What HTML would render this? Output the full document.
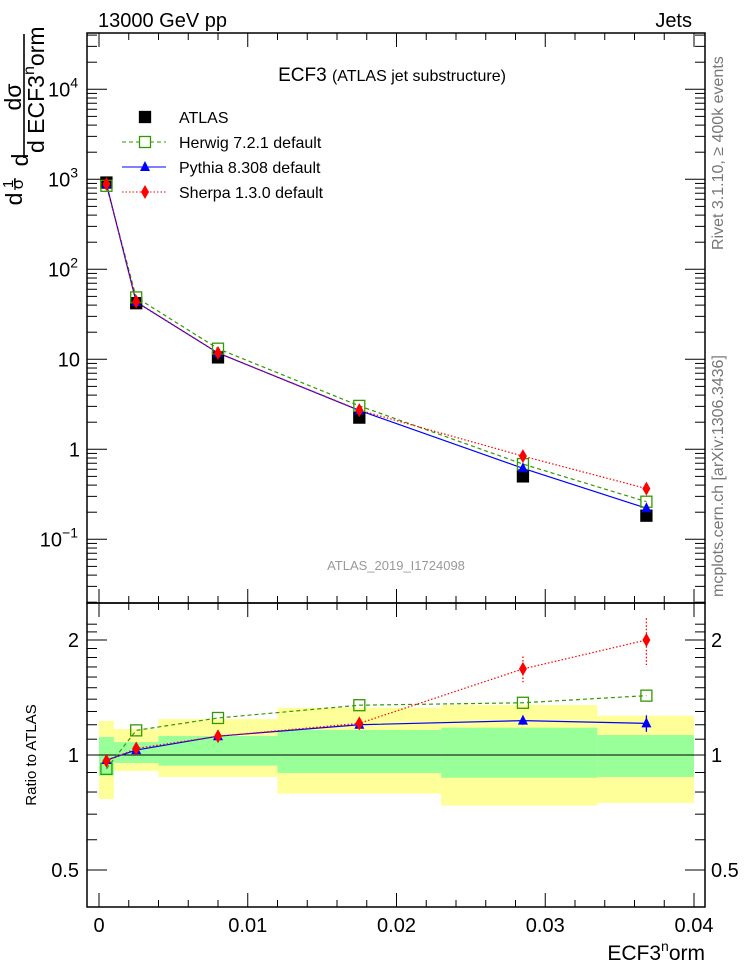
<!DOCTYPE html>
<html><head><meta charset="utf-8"><style>
body{margin:0;background:#fff}
svg{display:block;font-family:"Liberation Sans",sans-serif}
</style></head><body>
<svg id="c" width="746" height="972" viewBox="0 0 746 972">
<text x="98" y="27" font-size="20">13000 GeV pp</text>
<text x="692" y="27" font-size="20" text-anchor="end">Jets</text>
<text x="392" y="81" font-size="19" text-anchor="middle">ECF3 <tspan font-size="16">(ATLAS jet substructure)</tspan></text>
<text x="396" y="570" font-size="13" fill="#999" text-anchor="middle">ATLAS_2019_I1724098</text>
<text transform="translate(723,250) rotate(-90)" font-size="16" fill="#777">Rivet 3.1.10, ≥ 400k events</text>
<text transform="translate(723,597) rotate(-90)" font-size="16" fill="#777">mcplots.cern.ch [arXiv:1306.3436]</text>
<g>
<text transform="translate(21,97) rotate(-90)" text-anchor="middle" font-size="23">dσ</text>
<line x1="24" y1="34" x2="24" y2="158" stroke="#000" stroke-width="1.6"/>
<text transform="translate(44,153) rotate(-90)" font-size="23">d ECF3<tspan font-size="16" dy="-10">n</tspan><tspan dy="10">orm</tspan></text>
<text transform="translate(28,160) rotate(-90)" text-anchor="middle" font-size="23">d</text>
<text transform="translate(13,184) rotate(-90)" text-anchor="middle" font-size="15">1</text>
<line x1="15" y1="178" x2="15" y2="190" stroke="#000" stroke-width="1.3"/>
<text transform="translate(23,184) rotate(-90)" text-anchor="middle" font-size="17">σ</text>
<text transform="translate(22,199) rotate(-90)" text-anchor="middle" font-size="23">d</text>
</g>
<text transform="translate(36,755) rotate(-90)" font-size="15" text-anchor="middle">Ratio to ATLAS</text>
<text x="705" y="960" font-size="21" text-anchor="end">ECF3<tspan font-size="14" dy="-9">n</tspan><tspan dy="9">orm</tspan></text>
<g id="g"></g>
</svg>
<script>
const xVals=[0.0005,0.0025,0.008,0.0175,0.0285,0.0368];
const binEdges=[0,0.001,0.004,0.012,0.023,0.0335,0.04];
const atlas=[920,42,10.5,2.25,0.5,0.183];
const herwigRatio=[0.92,1.16,1.25,1.35,1.37,1.43];
const pythiaRatio=[0.97,1.03,1.12,1.20,1.23,1.21];
const pythiaErr=[0,0,0,0.02,0.03,0.06];
const sherpaRatio=[0.965,1.04,1.12,1.21,1.68,2.0];
const sherpaErr=[0,0,0,0.02,0.13,0.28];
const bandStatHi=[1.115,1.081,1.121,1.163,1.179,1.128];
const bandStatLo=[0.883,0.953,0.938,0.897,0.872,0.876];
const bandTotHi=[1.228,1.17,1.242,1.33,1.352,1.268];
const bandTotLo=[0.767,0.908,0.876,0.792,0.737,0.749];
const xTicks=[0,0.01,0.02,0.03,0.04];
const xTickLabels=["0","0.01","0.02","0.03","0.04"];
const ratioTicks=[0.5,1,2];

const L=87,R=705,T=33,MB=603,RB=907;
const X=v=>99+v*14875;
const Y=v=>449.3-90*Math.log10(v);
const RY=r=>755-115*Math.log2(r);
const NS="http://www.w3.org/2000/svg";
const g=document.getElementById('g');
function el(t,a,p){const e=document.createElementNS(NS,t);for(const k in a)e.setAttribute(k,a[k]);(p||g).appendChild(e);return e;}

for(let i=0;i<6;i++){
 const r=el('rect',{x:X(binEdges[i]),y:RY(bandTotHi[i]),width:X(binEdges[i+1])-X(binEdges[i]),height:RY(bandTotLo[i])-RY(bandTotHi[i]),fill:'#ffff99'});
 
 
}
for(let i=0;i<6;i++){
 const r=el('rect',{x:X(binEdges[i]),y:RY(bandStatHi[i]),width:X(binEdges[i+1])-X(binEdges[i]),height:RY(bandStatLo[i])-RY(bandStatHi[i]),fill:'#99ff99'});
 
 
}
el('line',{x1:L,x2:R,y1:RY(1),y2:RY(1),stroke:'#000','stroke-width':1});

el('rect',{x:L,y:T,width:R-L,height:MB-T,fill:'none',stroke:'#000','stroke-width':1.5});
el('rect',{x:L,y:MB,width:R-L,height:RB-MB,fill:'none',stroke:'#000','stroke-width':1.5});

for(let v=0;v<=0.0405;v+=0.002){
 const major=Math.abs(v/0.01-Math.round(v/0.01))<1e-6;
 const len=major?14:7, x=X(v);
 [[T,1],[MB,-1],[MB,1],[RB,-1]].forEach(([y0,d])=>el('line',{x1:x,x2:x,y1:y0,y2:y0+d*len,stroke:'#000'}));
}
xTicks.forEach((v,i)=>{const t=el('text',{x:X(v),y:932,'font-size':20,'text-anchor':'middle'});t.textContent=xTickLabels[i];
 
 });

for(let e=-2;e<=4;e++){for(let m=1;m<10;m++){const v=m*Math.pow(10,e),y=Y(v);if(y<T||y>MB)continue;
 const len=m==1?20:10;el('line',{x1:L,x2:L+len,y1:y,y2:y,stroke:'#000'});el('line',{x1:R,x2:R-len,y1:y,y2:y,stroke:'#000'});}}
const yLab=[[4,'10','4'],[3,'10','3'],[2,'10','2'],[1,'10',''],[0,'1',''],[-1,'10','−1']];
yLab.forEach(([e,b,s])=>{const t=el('text',{x:s?78:80,y:Y(Math.pow(10,e))+7,'font-size':20,'text-anchor':'end'});
 
 
 t.innerHTML=b+(s?'<tspan font-size="14" dy="-9">'+s+'</tspan>':'');});

for(const r of [0.5,0.6,0.7,0.8,0.9,1,1.1,1.2,1.3,1.4,1.5,1.6,1.7,1.8,1.9,2,2.1,2.2]){const y=RY(r);if(y<MB||y>RB)continue;
 const len=ratioTicks.includes(r)?20:10;
 el('line',{x1:L,x2:L+len,y1:y,y2:y,stroke:'#000'});el('line',{x1:R,x2:R-len,y1:y,y2:y,stroke:'#000'});}
ratioTicks.forEach(r=>{['end','start'].forEach((a,j)=>{const t=el('text',{x:j?711:79,y:RY(r)+7,'font-size':20,'text-anchor':a});t.textContent=String(r);
 
 });});

function sq(x,y,fill,stroke,name){const r=el('rect',{x:x-5.5,y:y-5.5,width:11,height:11,fill:fill,stroke:stroke,'stroke-width':1.3});
 
 }
function tri(x,y,name){const p=el('path',{d:`M${x},${y-6}L${x+5},${y+4}L${x-5},${y+4}Z`,fill:'#0000ff'});
 
 }
function dia(x,y,name){const p=el('path',{d:`M${x},${y-7}L${x+4},${y}L${x},${y+7}L${x-4},${y}Z`,fill:'#ff0000'});
 
 }
function line(pts,color,dash,name){const p=el('polyline',{points:pts.map(q=>q.join(',')).join(' '),fill:'none',stroke:color,'stroke-width':1.2,'stroke-dasharray':dash});
 
 }

line(xVals.map((x,i)=>[X(x),Y(atlas[i]*herwigRatio[i])]),'#339900','4,3','herwig-line');
line(xVals.map((x,i)=>[X(x),Y(atlas[i]*pythiaRatio[i])]),'#0000ff','','pythia-line');
line(xVals.map((x,i)=>[X(x),Y(atlas[i]*sherpaRatio[i])]),'#ff0000','1.5,2','sherpa-line');
xVals.forEach((x,i)=>sq(X(x),Y(atlas[i]),'#000','#000','atlas-point'));
xVals.forEach((x,i)=>sq(X(x),Y(atlas[i]*herwigRatio[i]),'none','#339900','herwig-point'));
xVals.forEach((x,i)=>tri(X(x),Y(atlas[i]*pythiaRatio[i]),'pythia-point'));
xVals.forEach((x,i)=>dia(X(x),Y(atlas[i]*sherpaRatio[i]),'sherpa-point'));

line(xVals.map((x,i)=>[X(x),RY(herwigRatio[i])]),'#339900','4,3','herwig-ratio-line');
line(xVals.map((x,i)=>[X(x),RY(pythiaRatio[i])]),'#0000ff','','pythia-ratio-line');
line(xVals.map((x,i)=>[X(x),RY(sherpaRatio[i])]),'#ff0000','1.5,2','sherpa-ratio-line');
xVals.forEach((x,i)=>{if(pythiaErr[i])el('line',{x1:X(x),x2:X(x),y1:RY(pythiaRatio[i]+pythiaErr[i]),y2:RY(pythiaRatio[i]-pythiaErr[i]),stroke:'#0000ff','stroke-width':1.3});
 if(sherpaErr[i])el('line',{x1:X(x),x2:X(x),y1:RY(sherpaRatio[i]+sherpaErr[i]),y2:RY(sherpaRatio[i]-sherpaErr[i]),stroke:'#ff0000','stroke-width':1.3,'stroke-dasharray':'1.5,2'});});
xVals.forEach((x,i)=>sq(X(x),RY(herwigRatio[i]),'none','#339900','herwig-ratio-point'));
xVals.forEach((x,i)=>tri(X(x),RY(pythiaRatio[i]),'pythia-ratio-point'));
xVals.forEach((x,i)=>dia(X(x),RY(sherpaRatio[i]),'sherpa-ratio-point'));

const leg=[['ATLAS','atlas'],['Herwig 7.2.1 default','herwig'],['Pythia 8.308 default','pythia'],['Sherpa 1.3.0 default','sherpa']];
leg.forEach(([lab,k],i)=>{const y=117+i*25;
 if(k=='herwig')el('line',{x1:122,x2:166,y1:y,y2:y,stroke:'#339900','stroke-dasharray':'4,3'});
 if(k=='pythia')el('line',{x1:122,x2:166,y1:y,y2:y,stroke:'#0000ff'});
 if(k=='sherpa')el('line',{x1:122,x2:166,y1:y,y2:y,stroke:'#ff0000','stroke-dasharray':'1.5,2'});
 if(k=='atlas')sq(145,y,'#000','#000','legend-atlas-marker');
 if(k=='herwig')sq(145,y,'#fff','#339900','legend-herwig-marker');
 if(k=='pythia')tri(145,y,'legend-pythia-marker');
 if(k=='sherpa')dia(145,y,'legend-sherpa-marker');
 const t=el('text',{x:179,y:y+6,'font-size':16});t.textContent=lab;
 
 });
</script>
</body></html>
